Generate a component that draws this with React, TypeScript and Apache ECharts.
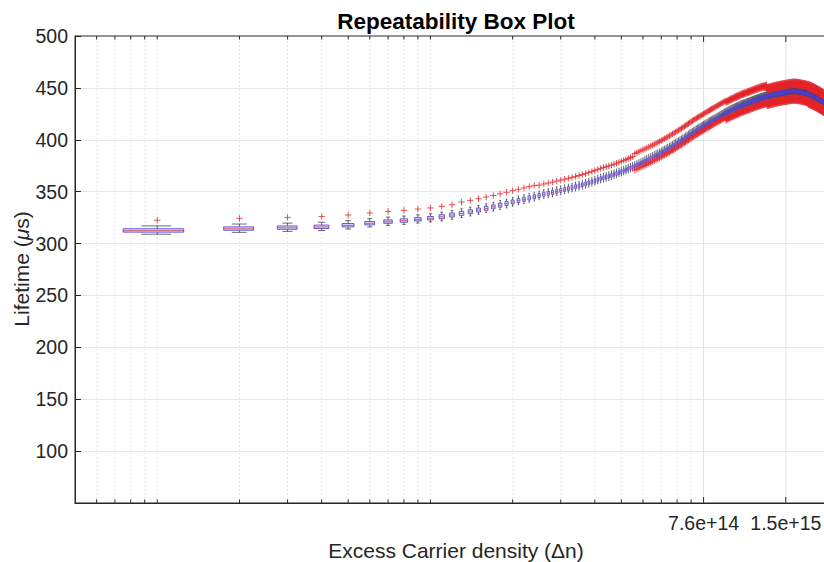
import React, { useEffect, useRef } from 'react';
import * as echarts from 'echarts';

const FONT = '"Liberation Sans", Arial, Helvetica, sans-serif';

const chartTitle = 'Repeatability Box Plot';
const xAxisTitle = 'Excess Carrier density (Δn)';

// Boxes sit at k × densityStep (k = 1, 2, 3, ...)
const densityStep = 7.6e12;
const boxWidth = 3.8e12;

// Median lifetime (µs) of each box, k = 1 .. 280
const medianLifetime = [
  312.5, 314.3, 315.2, 316.0, 317.5, 319.5, 321.0, 322.0, 323.2, 324.3,
  325.8, 327.4, 329.0, 330.6, 332.2, 333.8, 335.3, 336.9, 338.4, 340.0,
  341.3, 342.6, 343.8, 345.0, 346.2, 347.4, 348.3, 349.2, 350.2, 351.1,
  352.0, 352.9, 353.8, 354.7, 355.6, 356.5, 357.4, 358.4, 359.4, 360.4,
  361.4, 362.4, 363.2, 364.0, 364.8, 365.6, 366.5, 367.4, 368.3, 369.2,
  370.1, 371.0, 371.9, 372.8, 373.8, 374.7, 375.6, 376.5, 377.4, 378.3,
  379.2, 380.1, 381.0, 381.9, 382.8, 383.7, 384.6, 385.5, 386.4, 387.3,
  388.2, 389.1, 390.0, 390.9, 391.8, 392.7, 393.6, 394.5, 395.4, 396.3,
  397.2, 398.1, 399.0, 399.9, 400.8, 401.7, 402.6, 403.6, 404.6, 405.4,
  406.2, 407.0, 407.8, 408.6, 409.4, 410.1, 410.8, 411.5, 412.2, 412.9,
  413.6, 414.3, 415.0, 415.7, 416.4, 417.0, 417.6, 418.2, 418.8, 419.4,
  420.0, 420.6, 421.2, 421.8, 422.4, 423.0, 423.6, 424.2, 424.8, 425.3,
  425.8, 426.3, 426.8, 427.3, 427.8, 428.3, 428.7, 429.1, 429.5, 429.9,
  430.3, 430.7, 431.1, 431.5, 431.9, 432.3, 432.7, 433.0, 433.3, 433.6,
  433.9, 434.2, 434.5, 434.8, 435.1, 435.4, 435.7, 436.0, 436.3, 436.6,
  436.9, 437.2, 437.5, 437.8, 438.0, 438.3, 438.5, 438.8, 439.0, 439.3,
  439.5, 439.8, 440.0, 440.2, 440.4, 440.6, 440.8, 441.0, 441.2, 441.4,
  441.6, 441.8, 442.0, 442.2, 442.4, 442.6, 442.8, 443.0, 443.1, 443.3,
  443.4, 443.6, 443.7, 443.9, 444.0, 444.2, 444.3, 444.4, 444.5, 444.7,
  444.8, 444.9, 445.0, 445.1, 445.2, 445.3, 445.4, 445.5, 445.6, 445.7,
  445.8, 445.9, 446.0, 446.1, 446.2, 446.3, 446.4, 446.5, 446.6, 446.6,
  446.7, 446.7, 446.8, 446.8, 446.8, 446.8, 446.8, 446.7, 446.7, 446.6,
  446.6, 446.5, 446.4, 446.3, 446.2, 446.1, 446.0, 445.9, 445.8, 445.7,
  445.6, 445.5, 445.4, 445.3, 445.2, 445.1, 445.0, 444.8, 444.6, 444.4,
  444.2, 444.0, 443.8, 443.6, 443.4, 443.2, 443.0, 442.8, 442.6, 442.4,
  442.2, 442.0, 441.8, 441.5, 441.3, 441.0, 440.8, 440.5, 440.3, 440.0,
  439.8, 439.5, 439.3, 439.0, 438.8, 438.5, 438.3, 438.0, 437.8, 437.5,
  437.3, 437.0, 436.7, 436.4, 436.1, 435.8, 435.5, 435.2, 434.9, 434.6,
];

// Box spread read per range of boxes: [fromK, toK, lowWhisker, q1, q3, highWhisker] (offsets from median, µs)
const boxSpreadTable = [
  [1, 10, -3.5, -1.5, 1.8, 4.5],
  [11, 60, -4.0, -1.8, 2.0, 4.5],
  [61, 280, -4.5, -2.0, 2.2, 5.0],
];

// Outliers ('+') read per range of boxes: offsets from the median (µs)
const outlierFrom = [1, 13, 25, 46, 56, 121, 171, 241];
const outlierTo = [12, 24, 45, 55, 120, 170, 240, 280];
const outlierOffsets = [
  [10],
  [11],
  [10],
  [10],
  [-4, 12],
  [-5.5, -7, 10, 11.5],
  [-6, -7.5, -9, 6, 7.5, 9],
  [-6, -8, -10, 5.5, 7.5, 9.5],
];

// x-axis ticks: multiples of xTickUnit
const xTickUnit = 7.6e13;
const xTickMultiples = [0.06, 0.07, 0.08, 0.09, 0.1, 0.2, 0.3, 0.4, 0.5, 0.6, 0.7, 0.8, 0.9, 1, 2, 3, 4, 5, 6, 7, 8, 9, 10, 20];
const labeledTickMultiples = [10, 20];
const labeledTickTexts = ['7.6e+14', '1.5e+15'];

const xMin = 3.8e12;
const xMax = 2.34e15;
const yMin = 50;
const yMax = 500;
const yStep = 50;

export default function App() {
  const ref = useRef<HTMLDivElement>(null);

  useEffect(() => {
    if (!ref.current) return;
    const chart = echarts.init(ref.current, undefined, { renderer: 'svg' });

    const boxData: number[][] = [];
    const outlierData: number[][] = [];
    medianLifetime.forEach((m, i) => {
      const k = i + 1;
      const density = k * densityStep;
      const row = boxSpreadTable.find((r) => k >= r[0] && k <= r[1])!;
      boxData.push([density, m + row[2], m + row[3], m, m + row[4], m + row[5]]);
      const oi = outlierFrom.findIndex((f, j) => k >= f && k <= outlierTo[j]);
      if (oi >= 0) {
        outlierOffsets[oi].forEach((o) => outlierData.push([density, m + o]));
      }
    });

    const tickData = xTickMultiples.map((mlt) => [mlt * xTickUnit, yMin]);
    const axisColor = '#262626';

    const option: any = {
      animation: false,
      backgroundColor: '#ffffff',
      grid: {
        left: 75,
        top: 36,
        width: 762,
        height: 467,
        outerBoundsMode: 'none',
        containLabel: false,
        show: true,
        borderColor: axisColor,
        borderWidth: 1,
        backgroundColor: 'transparent',
      },
      xAxis: {
        type: 'log',
        logBase: 10,
        min: xMin,
        max: xMax,
        axisLine: { show: true, lineStyle: { color: axisColor, width: 1 } },
        axisTick: { show: false },
        axisLabel: { show: false },
        splitLine: { show: false },
        minorTick: { show: false },
      },
      yAxis: {
        type: 'value',
        min: yMin,
        max: yMax,
        interval: yStep,
        axisLine: { show: true, lineStyle: { color: axisColor, width: 1 } },
        axisTick: { show: true, inside: true, length: 6, lineStyle: { color: axisColor } },
        axisLabel: {
          formatter: (v: number) => (v === yMin ? '' : String(v)),
          fontSize: 19.5,
          fontFamily: FONT,
          color: axisColor,
          margin: 7,
        },
        splitLine: {
          show: true,
          showMinLine: false,
          showMaxLine: false,
          lineStyle: { color: '#e6e6e6', width: 1 },
        },
      },
      graphic: [
        {
          type: 'text',
          x: 456,
          y: 21,
          style: {
            text: chartTitle,
            align: 'center',
            verticalAlign: 'middle',
            textAlign: 'center',
            textVerticalAlign: 'middle',
            fontSize: 22.5,
            fontWeight: 'bold',
            fontFamily: FONT,
            fill: '#000000',
          },
        },
        {
          type: 'text',
          x: 456,
          y: 550,
          style: {
            text: xAxisTitle,
            align: 'center',
            verticalAlign: 'middle',
            textAlign: 'center',
            textVerticalAlign: 'middle',
            fontSize: 21,
            fontFamily: FONT,
            fill: axisColor,
          },
        },
        {
          type: 'text',
          x: 21,
          y: 269,
          rotation: Math.PI / 2,
          style: {
            text: '{a|Lifetime (}{b|μ}{a|s)}',
            align: 'center',
            verticalAlign: 'middle',
            textAlign: 'center',
            textVerticalAlign: 'middle',
            fontSize: 21,
            fontFamily: FONT,
            fill: axisColor,
            rich: {
              a: { fontSize: 21, fontFamily: FONT, fill: axisColor, color: axisColor },
              b: { fontSize: 21, fontFamily: FONT, fontStyle: 'italic', fill: axisColor, color: axisColor },
            },
          },
        },
      ],
      series: [
        {
          type: 'custom',
          name: 'xTicks',
          z: 1,
          clip: false,
          silent: true,
          data: tickData,
          encode: { x: 0, y: 1 },
          renderItem: (params: any, api: any) => {
            const v = api.value(0);
            const mlt = xTickMultiples[params.dataIndex];
            const li = labeledTickMultiples.indexOf(mlt);
            const major = li >= 0;
            const pb = api.coord([v, yMin]);
            const pt = api.coord([v, yMax]);
            const len = major ? 6 : 3.5;
            const children: any[] = [
              {
                type: 'line',
                shape: { x1: pb[0], y1: pb[1], x2: pt[0], y2: pt[1] },
                style: major
                  ? { stroke: '#e2e2e2', lineWidth: 1 }
                  : { stroke: '#e3e3e3', lineWidth: 1, lineDash: [1.5, 2.5] },
              },
              {
                type: 'line',
                shape: { x1: pb[0], y1: pb[1], x2: pb[0], y2: pb[1] - len },
                style: { stroke: axisColor, lineWidth: 1 },
              },
              {
                type: 'line',
                shape: { x1: pt[0], y1: pt[1], x2: pt[0], y2: pt[1] + len },
                style: { stroke: axisColor, lineWidth: 1 },
              },
            ];
            if (major) {
              children.push({
                type: 'text',
                x: pb[0],
                y: pb[1] + 20,
                style: {
                  text: labeledTickTexts[li],
                  align: 'center',
                  verticalAlign: 'middle',
                  textAlign: 'center',
                  textVerticalAlign: 'middle',
                  fontSize: 19.5,
                  fontFamily: FONT,
                  fill: axisColor,
                },
              });
            }
            return { type: 'group', children };
          },
        },
        {
          type: 'custom',
          name: 'boxes',
          z: 3,
          clip: true,
          silent: true,
          data: boxData,
          encode: { x: 0, y: [1, 2, 3, 4, 5] },
          renderItem: (params: any, api: any) => {
            const x = api.value(0);
            const lo = api.value(1);
            const q1 = api.value(2);
            const med = api.value(3);
            const q3 = api.value(4);
            const hi = api.value(5);
            const half = boxWidth / 2;
            const xl = api.coord([x - half, med])[0];
            const xr = api.coord([x + half, med])[0];
            const cl = api.coord([x - half / 2, med])[0];
            const cr = api.coord([x + half / 2, med])[0];
            const xc = api.coord([x, med])[0];
            const yLo = api.coord([x, lo])[1];
            const yQ1 = api.coord([x, q1])[1];
            const yMed = api.coord([x, med])[1];
            const yQ3 = api.coord([x, q3])[1];
            const yHi = api.coord([x, hi])[1];
            const wStyle = { stroke: '#2b2b2b', lineWidth: 0.7 };
            return {
              type: 'group',
              children: [
                { type: 'line', shape: { x1: xc, y1: yQ3, x2: xc, y2: yHi }, style: wStyle },
                { type: 'line', shape: { x1: xc, y1: yQ1, x2: xc, y2: yLo }, style: wStyle },
                { type: 'line', shape: { x1: cl, y1: yHi, x2: cr, y2: yHi }, style: wStyle },
                { type: 'line', shape: { x1: cl, y1: yLo, x2: cr, y2: yLo }, style: wStyle },
                {
                  type: 'rect',
                  shape: { x: xl, y: yQ3, width: Math.max(xr - xl, 0.6), height: yQ1 - yQ3 },
                  style: { fill: 'rgba(196,178,232,0.45)', stroke: '#3d3acb', lineWidth: 0.8 },
                },
                {
                  type: 'line',
                  shape: { x1: xl, y1: yMed, x2: xr, y2: yMed },
                  style: { stroke: '#c8405c', lineWidth: 0.8 },
                },
              ],
            };
          },
        },
        {
          type: 'custom',
          name: 'outliers',
          z: 4,
          clip: true,
          silent: true,
          data: outlierData,
          encode: { x: 0, y: 1 },
          renderItem: (params: any, api: any) => {
            const p = api.coord([api.value(0), api.value(1)]);
            const a = 3.2;
            const st = { stroke: '#e3262b', lineWidth: 0.8 };
            return {
              type: 'group',
              children: [
                { type: 'line', shape: { x1: p[0] - a, y1: p[1], x2: p[0] + a, y2: p[1] }, style: st },
                { type: 'line', shape: { x1: p[0], y1: p[1] - a, x2: p[0], y2: p[1] + a }, style: st },
              ],
            };
          },
        },
      ],
    };

    chart.setOption(option);
    return () => {
      chart.dispose();
    };
  }, []);

  return (
    <div
      ref={ref}
      style={{ position: 'fixed', left: 0, top: 0, width: 824, height: 562, background: '#fff' }}
    />
  );
}
